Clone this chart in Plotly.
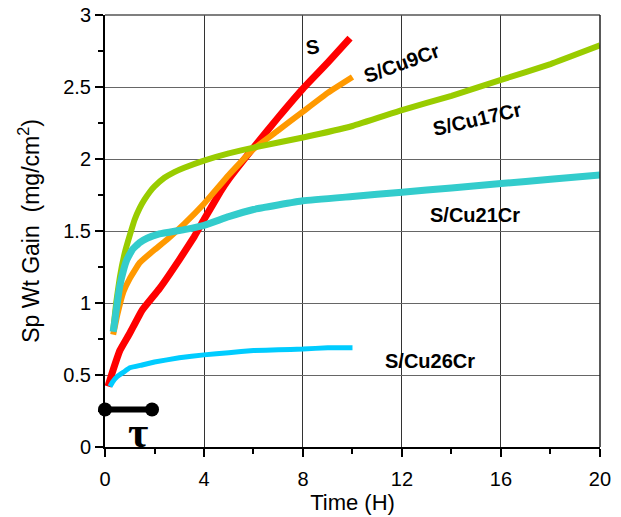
import plotly.graph_objects as go

# ---- data ----
s_t = [0.12, 0.3, 0.6, 1.0, 1.5, 2.2, 3.0, 3.6, 4.0, 4.65, 5.0, 6.0, 7.0, 8.0, 9.0, 9.9]
s_y = [0.42, 0.52, 0.67, 0.79, 0.95, 1.10, 1.30, 1.46, 1.58, 1.77, 1.86, 2.08, 2.29, 2.49, 2.67, 2.84]

cu9_t = [0.33, 0.5, 0.75, 1.0, 1.4, 2.0, 2.5, 3.2, 4.0, 5.0, 6.0, 7.0, 8.0, 9.0, 10.0]
cu9_y = [0.78, 0.92, 1.08, 1.17, 1.28, 1.37, 1.44, 1.55, 1.69, 1.89, 2.07, 2.20, 2.33, 2.46, 2.57]

cu17_t = [0.33, 0.45, 0.6, 0.8, 1.0, 1.2, 1.4, 1.6, 1.8, 2.0, 2.4, 2.8, 3.2, 4.0, 5.0, 6.0, 8.0, 10.0, 12.0,
          14.0, 16.0, 18.0, 20.0]
cu17_y = [0.81, 1.0, 1.18, 1.35, 1.47, 1.58, 1.66, 1.72, 1.77, 1.81, 1.87, 1.91, 1.94, 1.99, 2.04, 2.08, 2.15,
          2.23, 2.34, 2.44, 2.55, 2.66, 2.79]

cu21_t = [0.33, 0.4, 0.47, 0.6, 0.75, 0.88, 1.1, 1.4, 1.7, 2.2, 3.2, 4.0, 5.0, 6.0, 8.0, 10.0, 12.0, 14.0,
          16.0, 18.0, 20.0]
cu21_y = [0.80, 0.88, 0.97, 1.12, 1.23, 1.30, 1.37, 1.42, 1.45, 1.48, 1.51, 1.54, 1.60, 1.65, 1.71, 1.74,
          1.77, 1.80, 1.83, 1.86, 1.89]

cu26_t = [0.2, 0.3, 0.5, 0.75, 1.0, 1.5, 2.0, 3.0, 4.0, 5.0, 6.0, 7.0, 8.0, 9.0, 10.0]
cu26_y = [0.42, 0.45, 0.49, 0.52, 0.55, 0.57, 0.59, 0.62, 0.64, 0.655, 0.67, 0.675, 0.68, 0.69, 0.69]

tau_t = [0.0, 1.9]
tau_y = [0.26, 0.26]

series_names = ["S", "S/Cu9Cr", "S/Cu17Cr", "S/Cu21Cr", "S/Cu26Cr"]
series_colors = ["#FF0000", "#FF9900", "#99CC00", "#33CCCC", "#00CCFF"]
series_widths = [7, 6, 6, 7, 5]

x_ticks = [0, 4, 8, 12, 16, 20]
y_ticks = [0, 0.5, 1, 1.5, 2, 2.5, 3]
y_ticklabels = ["0", "0.5", "1", "1.5", "2", "2.5", "3"]

fig = go.Figure()
for t, y, name, col, w in zip(
    [s_t, cu9_t, cu17_t, cu21_t, cu26_t],
    [s_y, cu9_y, cu17_y, cu21_y, cu26_y],
    series_names, series_colors, series_widths,
):
    fig.add_trace(go.Scatter(x=t, y=y, mode="lines", name=name,
                             line=dict(color=col, width=w, shape="spline", smoothing=0.3)))

fig.add_trace(go.Scatter(x=tau_t, y=tau_y, mode="lines+markers", cliponaxis=False,
                         line=dict(color="black", width=6),
                         marker=dict(color="black", size=14, symbol="circle")))

lab_font = dict(family="Liberation Sans, Arial, sans-serif", size=20, color="black")
labels = [
    ("<b>S</b>", 8.4, 2.78, -10),
    ("<b>S/Cu9Cr</b>", 12.0, 2.67, -20),
    ("<b>S/Cu17Cr</b>", 15.05, 2.28, -13),
    ("<b>S/Cu21Cr</b>", 14.95, 1.61, 0),
    ("<b>S/Cu26Cr</b>", 13.15, 0.60, 0),
]
for txt, x, y, ang in labels:
    fig.add_annotation(x=x, y=y, text=txt, showarrow=False, textangle=ang, font=lab_font)

fig.add_annotation(x=1.33, y=0.10, text="<b>τ</b>", showarrow=False,
                   font=dict(family="Liberation Serif, Times New Roman, serif", size=44, color="black"))

# top / right border
fig.add_shape(type="line", xref="paper", yref="paper", x0=0, x1=1, y0=1, y1=1,
              line=dict(color="#555555", width=1.5))
fig.add_shape(type="line", xref="paper", yref="paper", x0=1, x1=1, y0=0, y1=1,
              line=dict(color="#222222", width=1.5))

fig.update_layout(
    width=621, height=517,
    margin=dict(l=105, r=21, t=15, b=70),
    paper_bgcolor="white", plot_bgcolor="white",
    showlegend=False,
    font=dict(family="Liberation Sans, Arial, sans-serif", size=20, color="black"),
)
fig.update_xaxes(
    range=[0, 20.001], tickvals=x_ticks, ticks="outside", ticklen=8, tickwidth=1.5, tickcolor="black",
    minor=dict(dtick=2, ticks="outside", ticklen=5, tickcolor="black", showgrid=False),
    showline=True, linecolor="black", linewidth=2, automargin=False, ticklabeloverflow="allow",
    showgrid=True, gridcolor="#333333", gridwidth=1, zeroline=False,
    title=dict(text="Time (H)", font=dict(size=22), standoff=0),
    tickfont=dict(size=20), ticklabelstandoff=5,
)
fig.update_yaxes(
    range=[0, 3.001], tickvals=y_ticks, ticktext=y_ticklabels, ticks="outside", ticklen=8, tickwidth=1.5,
    tickcolor="black", automargin=False, ticklabeloverflow="allow",
    minor=dict(dtick=0.25, ticks="outside", ticklen=5, tickcolor="black", showgrid=False),
    showline=True, linecolor="black", linewidth=2,
    showgrid=True, gridcolor="#666666", gridwidth=1, zeroline=False,
    title=dict(text="Sp Wt Gain  (mg/cm<sup>2</sup>)", font=dict(size=23), standoff=17),
    tickfont=dict(size=20),
)

# remove the default 8px page margin so the figure sits at the window's corner
fig.write_html("out.html", config={"displayModeBar": False},
               post_script="document.body.style.margin='0px';")
